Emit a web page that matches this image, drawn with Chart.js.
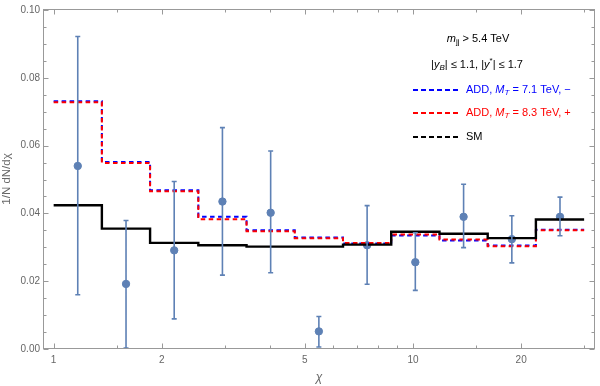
<!DOCTYPE html>
<html>
<head>
<meta charset="utf-8">
<script src="https://cdn.jsdelivr.net/npm/chart.js@4/dist/chart.umd.min.js"></script>
<style>
html, body { margin: 0; padding: 0; background: #fff; }
</style>
</head>
<body>
<canvas id="chiChart" width="600" height="386"></canvas>
<script>
// chart data
var binEdges = [1, 1.362, 1.855, 2.527, 3.442, 4.688, 6.386, 8.698, 11.85, 16.14, 21.98, 29.94];
var smValues = [0.0424, 0.0355, 0.0313, 0.0306, 0.0302, 0.0302, 0.0308, 0.0346, 0.0340, 0.0327, 0.0382];
var add71Values = [0.0731, 0.0552, 0.0468, 0.0390, 0.0350, 0.0329, 0.0311, 0.0335, 0.0320, 0.0305, 0.0352];
var add83Values = [0.0728, 0.0549, 0.0465, 0.0383, 0.0347, 0.0327, 0.0313, 0.0338, 0.0323, 0.0303, 0.0350];

var dataChi = [1.167, 1.590, 2.165, 2.949, 4.017, 5.471, 7.453, 10.15, 13.83, 18.84, 25.65];
var dataValues = [0.0540, 0.0192, 0.0291, 0.0435, 0.0402, 0.0052, 0.0306, 0.0256, 0.0390, 0.0324, 0.0390];
var dataErrLow = [0.0160, 0.0003, 0.0089, 0.0218, 0.0225, 0.0006, 0.0191, 0.0173, 0.0299, 0.0254, 0.0334];
var dataErrHigh = [0.0922, 0.0379, 0.0494, 0.0653, 0.0584, 0.0096, 0.0423, 0.0343, 0.0486, 0.0393, 0.0448];

var xTicks = [1, 1.5, 2, 3, 4, 5, 6, 7, 8, 9, 10, 15, 20, 30];
var xLabelTicks = [1, 2, 5, 10, 20];
var yTicks = [0, 0.02, 0.04, 0.06, 0.08, 0.10];

var legendLabels = ['ADD, M_T = 7.1 TeV, \u2212', 'ADD, M_T = 8.3 TeV, +', 'SM'];

/* colour bank
data points = rgb(94, 129, 181)
frame = #999
labels = #666
*/
var pointColor = 'rgb(94, 129, 181)';

// histogram outline: value i held from edge i to edge i+1
function stepData(values) {
    var pts = values.map(function (v, i) { return { x: binEdges[i], y: v }; });
    pts.push({ x: binEdges[values.length], y: values[values.length - 1] });
    return pts;
}

var frameTicks = {
    id: 'frameTicks',
    afterDraw: function (chart) {
        var a = chart.chartArea, ctx = chart.ctx;
        var xs = chart.scales.x, ys = chart.scales.y;
        var L = Math.round(a.left) + 0.5, R = Math.round(a.right) - 0.5;
        var T = Math.round(a.top) + 0.5, B = Math.round(a.bottom) - 0.5;
        ctx.save();
        ctx.strokeStyle = '#999';
        ctx.lineWidth = 1;
        ctx.strokeRect(L, T, R - L, B - T);
        ctx.beginPath();
        xTicks.forEach(function (v) {
            var len = xLabelTicks.indexOf(v) >= 0 ? 5 : 3;
            var px = Math.round(xs.getPixelForValue(v)) + 0.5;
            ctx.moveTo(px, B); ctx.lineTo(px, B - len);
            ctx.moveTo(px, T); ctx.lineTo(px, T + len);
        });
        for (var k = 0; k <= 20; k++) {
            var len = k % 4 === 0 ? 5 : 3;
            var py = Math.round(ys.getPixelForValue(k * 0.005)) + 0.5;
            ctx.moveTo(L, py); ctx.lineTo(L + len, py);
            ctx.moveTo(R, py); ctx.lineTo(R - len, py);
        }
        ctx.stroke();
        ctx.restore();
    }
};

var errorBars = {
    id: 'errorBars',
    afterDatasetsDraw: function (chart) {
        var ctx = chart.ctx, xs = chart.scales.x, ys = chart.scales.y;
        ctx.save();
        ctx.strokeStyle = pointColor;
        ctx.lineWidth = 1.6;
        ctx.beginPath();
        dataChi.forEach(function (c, i) {
            var px = xs.getPixelForValue(c);
            var lo = ys.getPixelForValue(dataErrLow[i]);
            var hi = ys.getPixelForValue(dataErrHigh[i]);
            ctx.moveTo(px, lo); ctx.lineTo(px, hi);
            ctx.moveTo(px - 2.5, lo); ctx.lineTo(px + 2.5, lo);
            ctx.moveTo(px - 2.5, hi); ctx.lineTo(px + 2.5, hi);
        });
        ctx.stroke();
        ctx.restore();
    }
};

// text with italic / sub / sup pieces
function richText(ctx, parts, x, y, align) {
    var size = 11, fam = '"Liberation Sans", Arial, sans-serif';
    function fontFor(p) {
        var s = (p.sub || p.sup) ? 8 : size;
        return (p.i ? 'italic ' : '') + s + 'px ' + fam;
    }
    var w = 0;
    parts.forEach(function (p) { ctx.font = fontFor(p); w += ctx.measureText(p.t).width; });
    var cx = align === 'center' ? x - w / 2 : x;
    ctx.textBaseline = 'middle';
    ctx.textAlign = 'left';
    parts.forEach(function (p) {
        ctx.font = fontFor(p);
        ctx.fillStyle = p.c || '#000';
        var dy = p.sub ? 3 : (p.sup ? -4 : 0);
        ctx.fillText(p.t, cx, y + dy);
        cx += ctx.measureText(p.t).width;
    });
}

function labelParts(label, color) {
    var m = label.split('M_T');
    if (m.length < 2) return [{ t: label, c: color }];
    return [{ t: m[0], c: color }, { t: 'M', i: true, c: color }, { t: 'T', i: true, sub: true, c: color }, { t: m[1], c: color }];
}

var notes = {
    id: 'notes',
    afterDraw: function (chart) {
        var ctx = chart.ctx;
        ctx.save();
        richText(ctx, [{ t: 'm', i: true }, { t: 'jj', sub: true }, { t: ' > 5.4 TeV' }], 478, 39, 'center');
        richText(ctx, [{ t: '|' }, { t: 'y', i: true }, { t: 'B', i: true, sub: true }, { t: '| \u2264 1.1, |' },
            { t: 'y', i: true }, { t: '*', sup: true }, { t: '| \u2264 1.7' }], 477, 65, 'center');
        var rows = [[legendLabels[0], '#0000ff', 90], [legendLabels[1], '#ff0000', 113], [legendLabels[2], '#000', 137]];
        rows.forEach(function (r) {
            ctx.strokeStyle = r[1];
            ctx.lineWidth = 2;
            ctx.setLineDash([5, 3]);
            ctx.beginPath();
            ctx.moveTo(413, r[2]); ctx.lineTo(459, r[2]);
            ctx.stroke();
            ctx.setLineDash([]);
            richText(ctx, labelParts(r[0], r[1]), 466, r[2], 'left');
        });
        ctx.restore();
    }
};

Chart.defaults.font.family = '"Liberation Sans", Arial, sans-serif';

var ctx = document.getElementById('chiChart').getContext('2d');
var chart = new Chart(ctx, {
    type: 'line',
    data: {
        datasets: [{
            label: 'SM',
            data: stepData(smValues),
            stepped: 'before',
            borderColor: '#000',
            borderWidth: 2.4,
            pointRadius: 0,
            fill: false
        }, {
            label: 'ADD 8.3',
            data: stepData(add83Values),
            stepped: 'before',
            borderColor: '#ff0000',
            borderWidth: 2,
            borderDash: [4.5, 3.5],
            pointRadius: 0,
            fill: false
        }, {
            label: 'ADD 7.1',
            data: stepData(add71Values),
            stepped: 'before',
            borderColor: '#0000ff',
            borderWidth: 2,
            borderDash: [4.5, 3.5],
            pointRadius: 0,
            fill: false
        }, {
            type: 'scatter',
            label: 'data',
            data: dataChi.map(function (c, i) { return { x: c, y: dataValues[i] }; }),
            backgroundColor: pointColor,
            borderColor: pointColor,
            pointRadius: 3.7,
            showLine: false
        }]
    },
    options: {
        responsive: false,
        animation: false,
        layout: { padding: { top: 6, right: 3, left: 0, bottom: 0 } },
        plugins: { legend: { display: false }, tooltip: { enabled: false } },
        scales: {
            x: {
                type: 'logarithmic',
                min: 0.934,
                max: 32.1,
                afterBuildTicks: function (scale) {
                    scale.ticks = xTicks.map(function (v) { return { value: v }; });
                },
                afterFit: function (scale) { scale.height = 37; },
                ticks: {
                    autoSkip: false,
                    maxRotation: 0,
                    padding: 5,
                    color: '#666',
                    font: { size: 10 },
                    callback: function (v) { return xLabelTicks.indexOf(v) >= 0 ? String(v) : ''; }
                },
                grid: { drawOnChartArea: false, drawTicks: false },
                border: { display: false },
                title: { display: true, text: '\u03c7', color: '#666', font: { size: 12, style: 'italic' }, padding: { top: 0, bottom: 1 } }
            },
            y: {
                type: 'linear',
                min: 0,
                max: 0.1003,
                afterBuildTicks: function (scale) {
                    scale.ticks = yTicks.map(function (v) { return { value: v }; });
                },
                afterFit: function (scale) { scale.width = 43; },
                ticks: {
                    padding: 3,
                    color: '#666',
                    font: { size: 10 },
                    callback: function (v) { return v.toFixed(2); }
                },
                grid: { drawOnChartArea: false, drawTicks: false },
                border: { display: false },
                title: { display: true, text: '1/N dN/d\u03c7', color: '#666', font: { size: 11.5 }, padding: { top: 0, bottom: 0 } }
            }
        }
    },
    plugins: [errorBars, frameTicks, notes]
});
</script>
</body>
</html>
